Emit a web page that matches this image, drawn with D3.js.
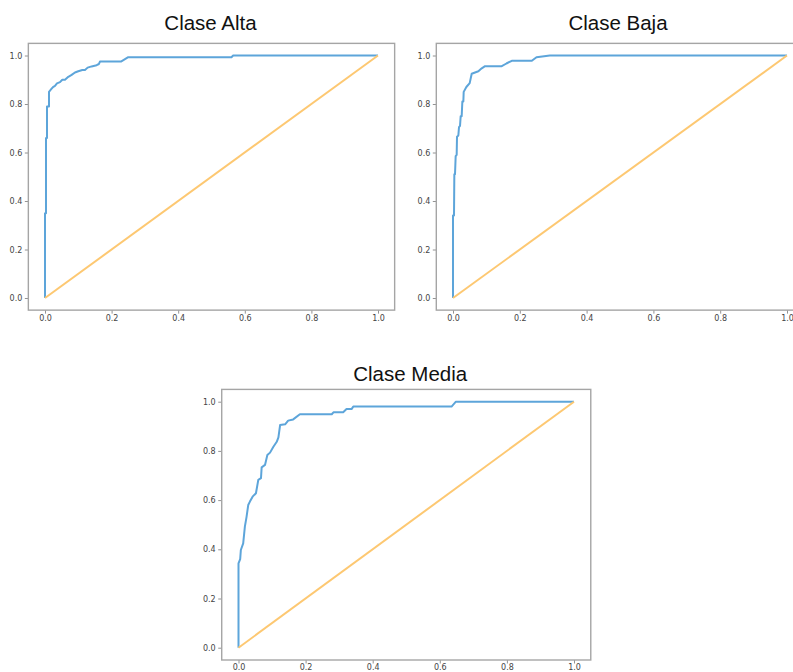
<!DOCTYPE html>
<html>
<head>
<meta charset="utf-8">
<script src="https://cdn.jsdelivr.net/npm/d3@7"></script>
<style>
  html, body { margin: 0; padding: 0; background: #fff; }
  svg { display: block; }
</style>
</head>
<body>
<svg id="chart" width="793" height="672"></svg>
<script>
// ---- data ----
const ticks = [0, 0.2, 0.4, 0.6, 0.8, 1.0];
const tickLabels = ["0.0", "0.2", "0.4", "0.6", "0.8", "1.0"];
const titles = ["Clase Alta", "Clase Baja", "Clase Media"];

const fprAlta = [0, 0, 0.003, 0.003, 0.006, 0.006, 0.012, 0.012, 0.018, 0.024, 0.03, 0.036, 0.045, 0.052, 0.06, 0.07, 0.08, 0.09, 0.1, 0.112, 0.12, 0.128, 0.14, 0.155, 0.162, 0.165, 0.228, 0.25, 0.56, 0.565, 1.0];
const tprAlta = [0, 0.35, 0.35, 0.66, 0.66, 0.79, 0.79, 0.85, 0.86, 0.87, 0.875, 0.885, 0.89, 0.9, 0.9, 0.912, 0.92, 0.93, 0.935, 0.94, 0.94, 0.95, 0.955, 0.96, 0.965, 0.975, 0.975, 0.993, 0.993, 1.0, 1.0];

const fprBaja = [0, 0, 0.003, 0.004, 0.006, 0.008, 0.011, 0.012, 0.016, 0.018, 0.021, 0.023, 0.026, 0.028, 0.031, 0.032, 0.04, 0.05, 0.056, 0.066, 0.076, 0.086, 0.096, 0.146, 0.16, 0.176, 0.236, 0.25, 0.29, 1.0];
const tprBaja = [0, 0.34, 0.34, 0.51, 0.51, 0.585, 0.59, 0.665, 0.67, 0.705, 0.71, 0.75, 0.75, 0.81, 0.81, 0.85, 0.87, 0.886, 0.925, 0.93, 0.935, 0.947, 0.956, 0.956, 0.967, 0.978, 0.978, 0.993, 1.0, 1.0];

const fprMedia = [0, 0, 0.005, 0.007, 0.014, 0.019, 0.024, 0.029, 0.034, 0.042, 0.052, 0.059, 0.067, 0.069, 0.079, 0.086, 0.094, 0.104, 0.114, 0.119, 0.124, 0.139, 0.148, 0.163, 0.183, 0.278, 0.283, 0.312, 0.322, 0.337, 0.342, 0.635, 0.648, 1.0];
const tprMedia = [0, 0.343, 0.36, 0.397, 0.424, 0.492, 0.532, 0.58, 0.594, 0.614, 0.628, 0.682, 0.689, 0.733, 0.743, 0.783, 0.793, 0.817, 0.837, 0.855, 0.905, 0.908, 0.923, 0.928, 0.949, 0.949, 0.957, 0.957, 0.97, 0.97, 0.98, 0.98, 1.0, 1.0];

const diagX = [0, 1];
const diagY = [0, 1];

// ---- layout (pixel positions of data 0 and 1 in each panel) ----
const panels = [
  { title: titles[0], fpr: fprAlta,  tpr: tprAlta,  px0: 45,    px1: 378, py0: 298,   py1: 55.5, ty: 30,  tdx: -1 },
  { title: titles[1], fpr: fprBaja,  tpr: tprBaja,  px0: 453,   px1: 787, py0: 298,   py1: 55.5, ty: 30,  tdx: -2 },
  { title: titles[2], fpr: fprMedia, tpr: tprMedia, px0: 238.5, px1: 574, py0: 647.7, py1: 401.7, ty: 381, tdx: 4 }
];

const blue = "#5da5da";
const orange = "#fdc872";
const svg = d3.select("#chart");

panels.forEach(p => {
  const x = d3.scaleLinear().domain([0, 1]).range([p.px0, p.px1]);
  const y = d3.scaleLinear().domain([0, 1]).range([p.py0, p.py1]);
  const g = svg.append("g");

  const left = x(-0.05), right = x(1.05), top = y(1.05), bottom = y(-0.05);

  // axes
  const xAxis = d3.axisBottom(x).tickValues(ticks).tickFormat((d, i) => tickLabels[i]).tickSize(3.5).tickPadding(1.2);
  const yAxis = d3.axisLeft(y).tickValues(ticks).tickFormat((d, i) => tickLabels[i]).tickSize(3.5).tickPadding(2.5);

  const gx = g.append("g").attr("transform", `translate(0,${bottom})`).call(xAxis);
  const gy = g.append("g").attr("transform", `translate(${left},0)`).call(yAxis);
  [gx, gy].forEach(a => {
    a.select(".domain").remove();
    a.selectAll(".tick line").attr("stroke", "#777").attr("stroke-width", 0.8);
    a.selectAll(".tick text").attr("fill", "#444").style("font-family", "DejaVu Sans, sans-serif").style("font-size", "8px");
  });

  // curves
  const line = d3.line().x(d => x(d[0])).y(d => y(d[1]));
  const rocPts = p.fpr.map((f, i) => [f, p.tpr[i]]);
  const diagPts = diagX.map((v, i) => [v, diagY[i]]);

  g.append("path").datum(rocPts).attr("d", line)
    .attr("fill", "none").attr("stroke", blue).attr("stroke-width", 2).attr("stroke-linejoin", "round");
  g.append("path").datum(diagPts).attr("d", line)
    .attr("fill", "none").attr("stroke", orange).attr("stroke-width", 2);

  // frame
  g.append("rect").attr("x", left).attr("y", top).attr("width", right - left).attr("height", bottom - top)
    .attr("fill", "none").attr("stroke", "#a5a5a5").attr("stroke-width", 1.4);

  // title
  g.append("text").attr("x", (left + right) / 2 + p.tdx).attr("y", p.ty).attr("text-anchor", "middle")
    .style("font-family", "Liberation Sans, Arial, sans-serif").style("font-size", "20.5px").attr("fill", "#111")
    .text(p.title);
});
</script>
</body>
</html>
